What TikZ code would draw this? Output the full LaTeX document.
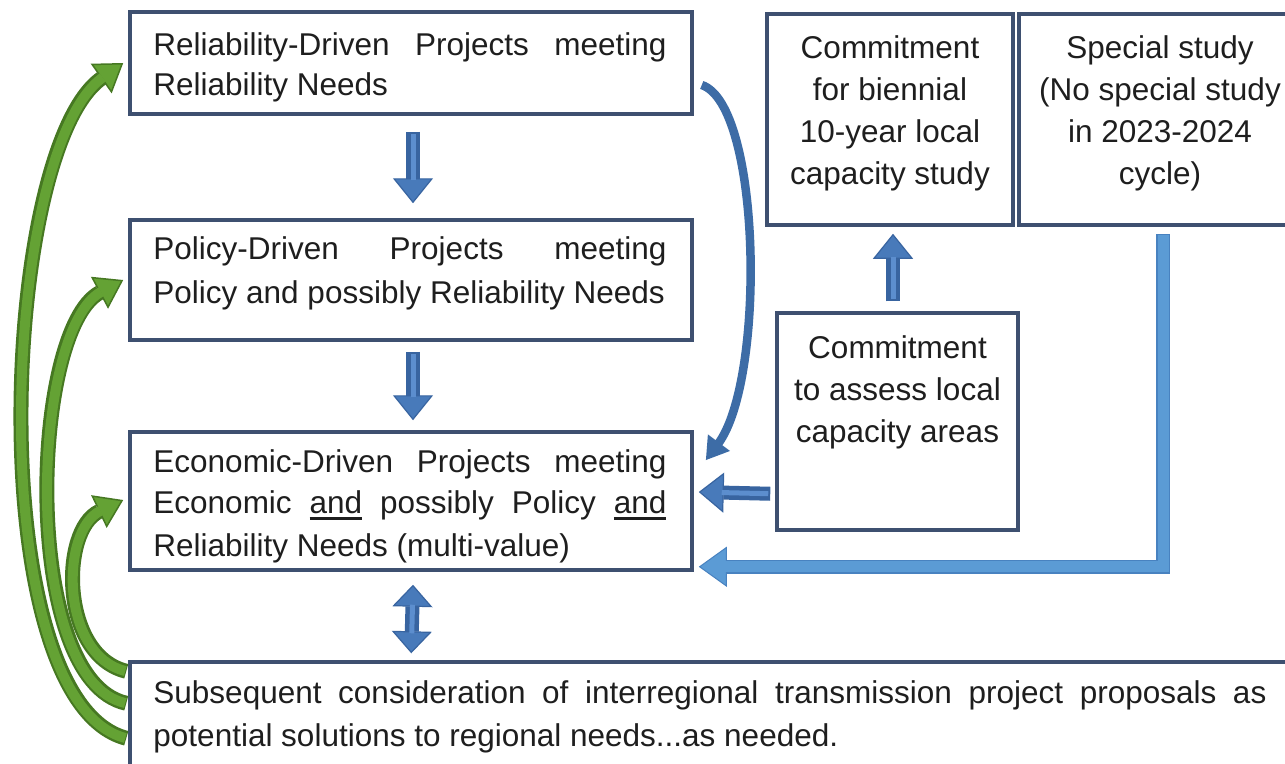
\documentclass[tikz,border=0pt]{standalone}
\usepackage{fontspec}
\setmainfont{Liberation Sans}
\usetikzlibrary{arrows.meta,calc}

\definecolor{boxline}{RGB}{62,80,112}
\definecolor{bdark}{RGB}{56,100,160}
\definecolor{bmid}{RGB}{72,122,186}
\definecolor{blight}{RGB}{92,142,206}
\definecolor{sky}{RGB}{91,155,213}
\definecolor{skydark}{RGB}{72,130,192}
\definecolor{gdark}{RGB}{70,120,34}
\definecolor{glight}{RGB}{100,162,52}
\definecolor{curveblue}{RGB}{61,108,166}
\definecolor{ink}{RGB}{30,30,30}

% underlined word with a heavy rule
\newcommand\ulword[1]{\setbox0\hbox{#1}\rlap{\rule[-6pt]{\wd0}{2.8pt}}\box0\relax}
% a line stretched to a given width
\newcommand\fullline[2]{\makebox[#1][s]{#2}}

\begin{document}
\begin{tikzpicture}[x=1pt,y=-1pt,
  panel/.style={draw=boxline, line width=3.5pt, fill=white, inner sep=0pt},
  txt/.style={inner sep=0pt, text=ink, font=\fontsize{31.5}{42}\selectfont},
  lefttxt/.style={txt, align=left, anchor=north west},
  midtxt/.style={txt, align=center, anchor=north},
  blockarrow/.style={draw=bdark, line width=14pt,
    -{Triangle[width=40pt,length=25pt,fill=bmid,line width=1.2pt]},
    postaction={draw=blight, line width=5pt, shorten >=23pt, shorten <=2pt, -}},
  blockdouble/.style={draw=bdark, line width=14pt,
    {Triangle[width=40pt,length=22pt,fill=bmid,line width=1.2pt]}-{Triangle[width=40pt,length=22pt,fill=bmid,line width=1.2pt]},
    postaction={draw=blight, line width=5pt, shorten >=20pt, shorten <=20pt, -}},
  skyarrow/.style={draw=skydark, line width=14pt, line join=miter,
    -{Triangle[width=40pt,length=28pt,fill=sky,line width=1pt]},
    postaction={draw=sky, line width=11pt, shorten >=26pt, shorten <=1.5pt, -}},
  greenarrow/.style={draw=gdark, line width=15pt,
    -{Triangle[width=36pt,length=27pt,fill=glight,line width=1.5pt]},
    postaction={draw=glight, line width=10pt, shorten >=25pt, shorten <=1pt, -}},
  loopback/.style={draw=curveblue, line width=8.5pt,
    -{Triangle[width=26pt,length=22pt]}}
]
\useasboundingbox (0,0) rectangle (1285,763);
\clip (0,0) rectangle (1285,763);
\fill[white] (0,0) rectangle (1285,763);

% ---- boxes ----
\node[panel, minimum width=562pt, minimum height=102pt] (R) at (411,63) {};
\node[panel, minimum width=562pt, minimum height=120pt] (P) at (411,280) {};
\node[panel, minimum width=562pt, minimum height=138pt] (E) at (411,501) {};
\node[panel, minimum width=246pt, minimum height=211pt] (C1) at (890,119.5) {};
\node[panel, minimum width=288pt, minimum height=211pt] (S) at (1163,119.5) {};
\node[panel, minimum width=241pt, minimum height=217pt] (C2) at (897.5,421.5) {};
\node[panel, minimum width=1190pt, minimum height=138pt] (Sub) at (725,731) {};

% ---- texts ----
\node[lefttxt] (Rt) at ($(R.north west)+(25,22.5)$)
  {\fullline{513pt}{Reliability-Driven Projects meeting}\\[-2pt]Reliability Needs};
\node[lefttxt] (Pt) at ($(P.north west)+(25,18)$)
  {\fullline{513pt}{Policy-Driven Projects meeting}\\[2pt]Policy and possibly Reliability Needs};
\node[lefttxt] (Et) at ($(E.north west)+(25,19.5)$)
  {\fullline{513pt}{Economic-Driven Projects meeting}\\[-1pt]
   \fullline{513pt}{Economic \ulword{and} possibly Policy \ulword{and}}\\[1pt]
   Reliability Needs (multi-value)};
\node[midtxt] (C1t) at ($(C1.north)+(0,23)$)
  {Commitment\\for biennial\\10-year local\\capacity study};
\node[midtxt] (St) at ($(S.north)+(-3,23)$)
  {Special study\\(No special study\\in 2023-2024\\cycle)};
\node[midtxt] (C2t) at ($(C2.north)+(0,24)$)
  {Commitment\\to assess local\\capacity areas};
\node[lefttxt] (Subt) at ($(Sub.north west)+(25,20.5)$)
  {\fullline{1113pt}{Subsequent consideration of interregional transmission project proposals as}\\[1pt]
   potential solutions to regional needs...as needed.};

% ---- blue block arrows ----
\draw[blockarrow] ($(R.south)+(2,16)$) -- ($(P.north)+(2,-15)$);
\draw[blockarrow] ($(P.south)+(2,10)$) -- ($(E.north)+(2,-10)$);
\draw[blockdouble] ($(E.south)+(2,13)$) -- ($(Sub.north west)+(283,-7)$);
\draw[blockarrow] ($(C2.north)+(-4.5,-10)$) -- ($(C1.south)+(3,7)$);
\draw[blockarrow] ($(C2.south west)+(-5,-38)$) -- ($(E.east)+(5,-9)$);

% ---- special study feed ----
\draw[skyarrow] ($(S.south)+(0,7)$) |- ($(E.south east)+(5,-5)$);

% ---- reliability loop into economic ----
\draw[loopback] ($(R.east)+(8,22)$) .. controls +(60,20) and +(60,-80) .. ($(E.north east)+(12,30)$);

% ---- interregional feedback arrows ----
\draw[greenarrow] ($(Sub.north west)+(-2,78)$) .. controls (-20,700) and (0,150) .. ($(R.west)+(-5,0)$);
\draw[greenarrow] ($(Sub.north west)+(-2,43)$) .. controls (20,680) and (30,330) .. ($(P.west)+(-5,0)$);
\draw[greenarrow] ($(Sub.north west)+(-2,11)$) .. controls (60,655) and (60,530) .. ($(E.west)+(-5,-1)$);
\end{tikzpicture}
\end{document}
